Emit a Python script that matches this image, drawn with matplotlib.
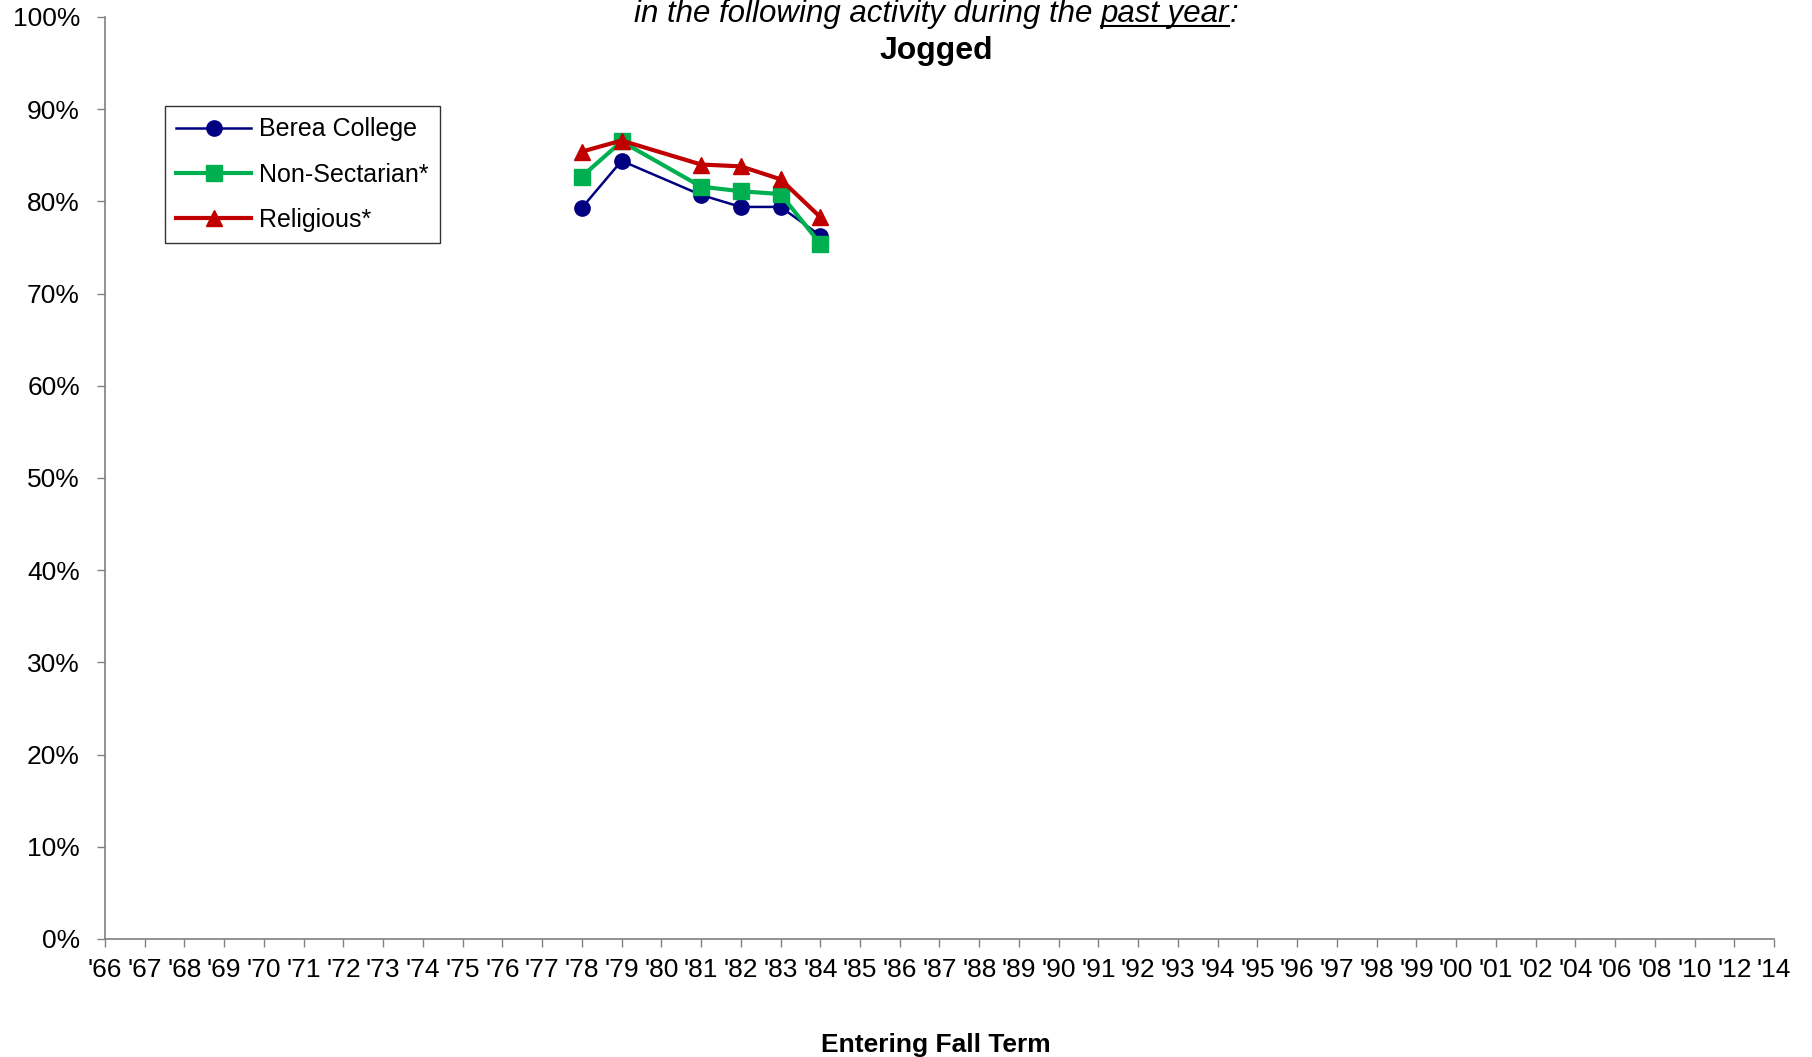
import numpy as np
import matplotlib.pyplot as plt
from matplotlib.lines import Line2D

plt.rcParams['font.family'] = ['Liberation Sans', 'DejaVu Sans']

# category labels along the x axis
years = ["'66", "'67", "'68", "'69", "'70", "'71", "'72", "'73", "'74", "'75",
         "'76", "'77", "'78", "'79", "'80", "'81", "'82", "'83", "'84", "'85",
         "'86", "'87", "'88", "'89", "'90", "'91", "'92", "'93", "'94", "'95",
         "'96", "'97", "'98", "'99", "'00", "'01", "'02", "'04", "'06", "'08",
         "'10", "'12", "'14"]

# years with data ('80 missing)
data_years = ["'78", "'79", "'81", "'82", "'83", "'84"]
berea = [79.3, 84.4, 80.7, 79.4, 79.4, 76.3]
non_sectarian = [82.7, 86.5, 81.6, 81.1, 80.8, 75.4]
religious = [85.4, 86.6, 84.0, 83.8, 82.4, 78.3]

xpos = [years.index(y) for y in data_years]

fig = plt.figure(figsize=(18.12, 10.57), dpi=100)
ax = fig.add_axes([105 / 1812, 1 - 939 / 1057, (1774 - 105) / 1812, (939 - 17) / 1057])

ax.plot(xpos, berea, color='#000080', lw=1.8, marker='o', ms=11, label='Berea College')
ax.plot(xpos, non_sectarian, color='#00B050', lw=3, marker='s', ms=11, label='Non-Sectarian*')
ax.plot(xpos, religious, color='#C00000', lw=3, marker='^', ms=12, label='Religious*')

ax.set_xlim(0, len(years) - 1)
ax.set_ylim(0, 100)
ax.set_xticks(range(len(years)))
ax.set_xticklabels(years, fontsize=19)
ax.set_yticks(range(0, 101, 10))
ax.set_yticklabels([f'{v}%' for v in range(0, 101, 10)], fontsize=19)
ax.tick_params(direction='out', length=6, width=1, color='#808080')
ax.tick_params(axis='y', pad=12)
ax.tick_params(axis='x', pad=8)
ax.spines['top'].set_visible(False)
ax.spines['right'].set_visible(False)
for s in ('left', 'bottom'):
    ax.spines[s].set_color('#808080')
    ax.spines[s].set_linewidth(1.2)

leg = ax.legend(loc='upper left', bbox_to_anchor=((165 - 105) / 1669, 1 - (106 - 17) / 922),
                fontsize=18, frameon=True, fancybox=False, edgecolor='black',
                handlelength=3.0, borderpad=0.45, labelspacing=0.85, handletextpad=0.3,
                borderaxespad=0)
leg.get_frame().set_linewidth(1)

# title: italic line with underlined "past year", then bold title
ty = 1 - 14 / 1057
parts = ['in the following activity during the ', 'past year', ':']
texts = [fig.text(0, ty, p, ha='left', va='center', fontsize=22.5, style='italic') for p in parts]
fig.canvas.draw()
r = fig.canvas.get_renderer()
widths = [t.get_window_extent(r).width for t in texts]
x0 = 0.5165 * 1812 - sum(widths) / 2
for t, w in zip(texts, widths):
    t.set_x(x0 / 1812)
    x0 += w
bb = texts[1].get_window_extent(r)
uy = (bb.y0 + 3) / 1057
fig.add_artist(Line2D([bb.x0 / 1812, bb.x1 / 1812], [uy, uy], color='black', lw=1.5))

fig.text(0.5165, 1 - 51 / 1057, 'Jogged', ha='center', va='center', fontsize=23, weight='bold')
fig.text(0.5165, 1 - 1045 / 1057, 'Entering Fall Term', ha='center', va='center',
         fontsize=19, weight='bold')

plt.savefig('out.png', dpi=100)
